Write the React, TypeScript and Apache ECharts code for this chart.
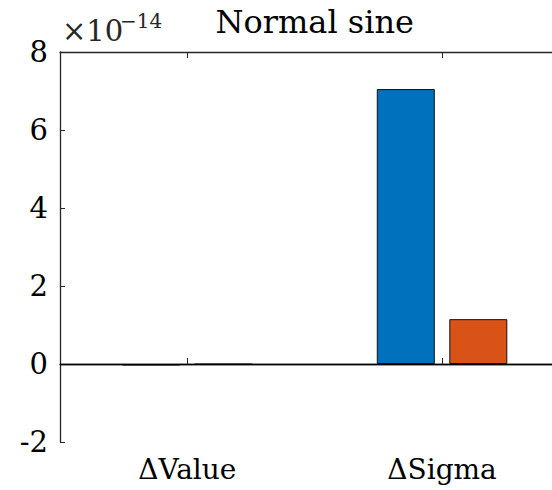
import React, { useEffect, useRef } from "react";
import * as echarts from "echarts";

const categories = ["ΔValue", "ΔSigma"];
const seriesA = [-0.04, 7.05];
const seriesB = [-0.01, 1.15];
const yTicks = { min: -2, max: 8, interval: 2 };
const titleText = "Normal sine";
const exponentBase = "×10";
const exponentPower = "−14";

const FONT = "DejaVu Serif, serif";
const AX = "#262626";

export default function App() {
  const ref = useRef<HTMLDivElement>(null);
  useEffect(() => {
    if (!ref.current) return;
    const chart = echarts.init(ref.current, undefined, { renderer: "svg" });
    const gridLeft = 60;
    const gridTop = 52;
    const gridWidth = 509.4;
    const gridHeight = 390;
    chart.setOption({
      animation: false,
      backgroundColor: "#ffffff",
      textStyle: { fontFamily: FONT },
      grid: { left: gridLeft, top: gridTop, width: gridWidth, height: gridHeight },
      graphic: [
        {
          type: "text",
          x: gridLeft + gridWidth / 2,
          y: 22,
          style: {
            text: titleText,
            fontFamily: FONT,
            fontSize: 32,
            fill: "#000",
            textAlign: "center",
            textVerticalAlign: "middle",
          },
        },
        {
          type: "text",
          x: 62,
          y: 31,
          style: {
            text: exponentBase,
            fontFamily: FONT,
            fontSize: 29,
            fill: AX,
            textAlign: "left",
            textVerticalAlign: "middle",
          },
        },
        {
          type: "text",
          x: 120,
          y: 21,
          style: {
            text: exponentPower,
            fontFamily: FONT,
            fontSize: 20,
            fill: AX,
            textAlign: "left",
            textVerticalAlign: "middle",
          },
        },
      ],
      xAxis: [
        {
          type: "category",
          data: categories,
          position: "bottom",
          axisLine: { show: true, lineStyle: { color: AX, width: 1.3 } },
          axisTick: { show: true, inside: true, alignWithLabel: true, length: 6, lineStyle: { color: AX, width: 1 } },
          axisLabel: { color: "#000", fontFamily: FONT, fontSize: 28, margin: 13 },
          splitLine: { show: false },
        },
        {
          type: "category",
          data: categories,
          position: "top",
          axisLine: { show: true, lineStyle: { color: AX, width: 1.3 } },
          axisTick: { show: true, inside: true, alignWithLabel: true, length: 6, lineStyle: { color: AX, width: 1 } },
          axisLabel: { show: false },
          splitLine: { show: false },
        },
      ],
      yAxis: {
        type: "value",
        min: yTicks.min,
        max: yTicks.max,
        interval: yTicks.interval,
        axisLine: { show: true, lineStyle: { color: AX, width: 1.3 } },
        axisTick: { show: true, inside: true, length: 5, lineStyle: { color: AX, width: 1 } },
        axisLabel: { color: "#000", fontFamily: FONT, fontSize: 29, margin: 12 },
        splitLine: { show: false },
      },
      series: [
        {
          type: "bar",
          data: seriesA,
          barWidth: 58,
          barGap: "25%",
          itemStyle: { color: "#0072BD", borderColor: "#111", borderWidth: 1 },
          markLine: {
            silent: true,
            symbol: "none",
            label: { show: false },
            lineStyle: { color: "#000", width: 1.3, type: "solid" },
            data: [{ yAxis: 0 }],
          },
        },
        {
          type: "bar",
          data: seriesB,
          barWidth: 58,
          barGap: "25%",
          itemStyle: { color: "#D95319", borderColor: "#111", borderWidth: 1 },
        },
      ],
    });
    return () => chart.dispose();
  }, []);
  return (
    <div style={{ position: "fixed", left: 0, top: 0, width: 552, height: 490, overflow: "hidden", background: "#fff" }}>
      <div ref={ref} style={{ width: 580, height: 490 }} />
    </div>
  );
}
